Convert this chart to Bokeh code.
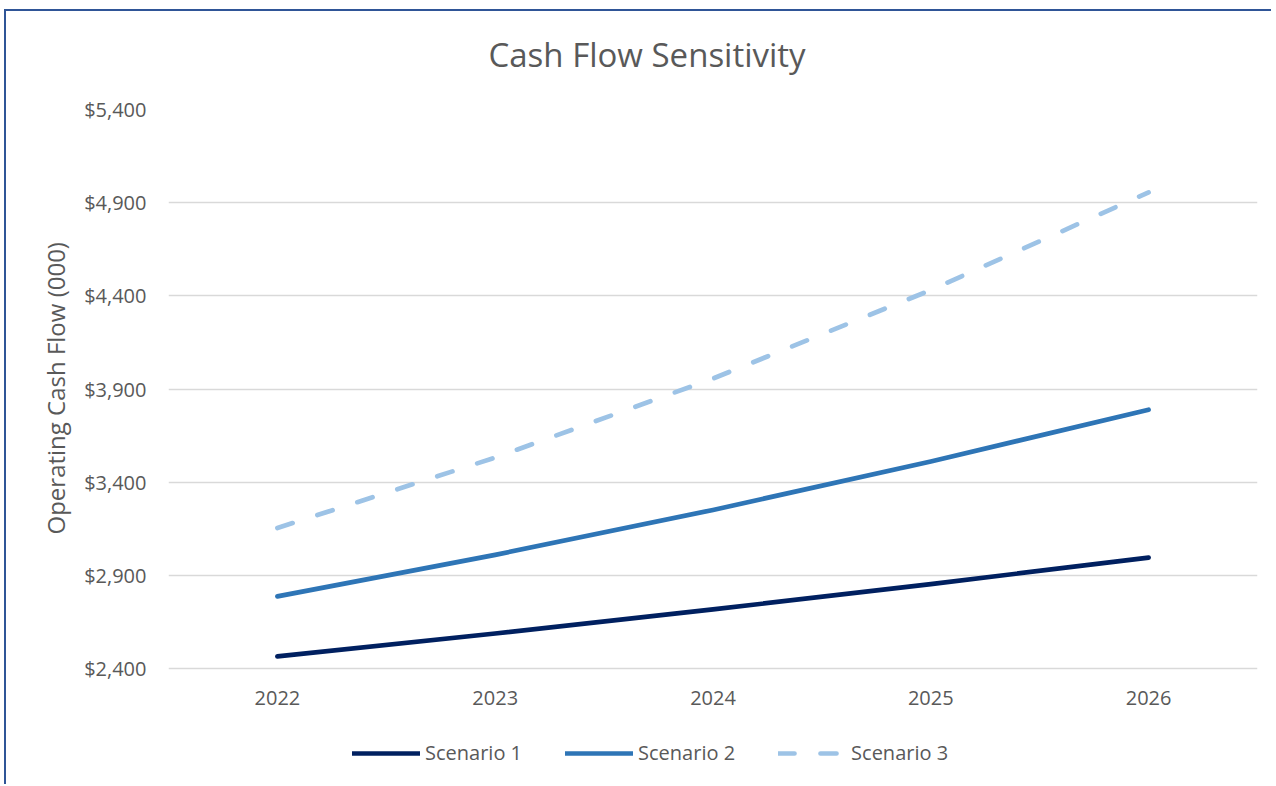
from bokeh.plotting import figure
from bokeh.models import (FactorRange, Range1d, FixedTicker, NumeralTickFormatter,
                          Legend, LegendItem, ColumnDataSource, Title)
from bokeh.embed import file_html
from bokeh.resources import INLINE

# ---- data ----
years = ["2022", "2023", "2024", "2025", "2026"]
scenario_1 = [2465, 2588, 2717, 2853, 2995]
scenario_2 = [2787, 3010, 3251, 3511, 3789]
scenario_3 = [3154, 3532, 3956, 4431, 4955]
series_names = ["Scenario 1", "Scenario 2", "Scenario 3"]
y_ticks = [2400, 2900, 3400, 3900, 4400, 4900, 5400]
y_axis_title = "Operating Cash Flow (000)"
chart_title = "Cash Flow Sensitivity"

FONT = "Open Sans"
TEXT = "#595959"

# layout: value axis spans 559 px; extra room below the axis holds the legend
VALUE_PX = 559
EXTRA_PX = 104
y_lo, y_hi = y_ticks[0], y_ticks[-1]
y_start = y_lo - EXTRA_PX * (y_hi - y_lo) / VALUE_PX

p = figure(
    x_range=FactorRange(factors=years),
    y_range=Range1d(y_start, y_hi),
    frame_width=1089, frame_height=VALUE_PX + EXTRA_PX,
    min_border_left=162, min_border_right=14,
    min_border_top=98, min_border_bottom=12,
    output_backend="svg", toolbar_location=None,
    title=chart_title,
)
p.styles = {"border-top": "2px solid #2F5597", "border-left": "2px solid #2F5597",
            "margin-left": "4px", "margin-top": "9px"}
p.outline_line_color = None
p.background_fill_color = "white"
p.border_fill_color = "white"

# title
p.title.align = "left"
p.title.offset = 320
p.title.standoff = 37
p.title.text_font = FONT
p.title.text_font_size = "33px"
p.title.text_font_style = "normal"
p.title.text_color = TEXT
# blank spacer between title and plot area
p.add_layout(Title(text=" ", text_font_size="1px", standoff=11), "above")

# x axis sits on the lowest value gridline
p.xaxis.fixed_location = y_lo
p.xaxis.axis_line_color = None
p.xaxis.major_tick_line_color = None
p.xaxis.minor_tick_line_color = None
p.xaxis.major_label_standoff = 16
p.xaxis.major_label_text_font = FONT
p.xaxis.major_label_text_font_size = "20px"
p.xaxis.major_label_text_color = TEXT

p.yaxis.ticker = FixedTicker(ticks=y_ticks)
p.yaxis.formatter = NumeralTickFormatter(format="$0,0")
p.yaxis.axis_line_color = None
p.yaxis.major_tick_line_color = None
p.yaxis.minor_tick_line_color = None
p.yaxis.major_label_standoff = 16
p.yaxis.major_label_text_font = FONT
p.yaxis.major_label_text_font_size = "20px"
p.yaxis.major_label_text_color = TEXT

# value-axis title, centred on the value span
p.add_layout(Title(text=y_axis_title, align="left", offset=238, standoff=20,
                   text_font=FONT, text_font_size="24px", text_font_style="normal",
                   text_color=TEXT), "left")

p.xgrid.grid_line_color = None
p.ygrid.grid_line_color = "#D9D9D9"
p.ygrid.grid_line_width = 1.5

src = ColumnDataSource(dict(year=years, s1=scenario_1, s2=scenario_2, s3=scenario_3))
r1 = p.line("year", "s1", source=src, line_color="#002060", line_width=4.7, line_cap="round", line_join="round")
r2 = p.line("year", "s2", source=src, line_color="#2E75B6", line_width=4.7, line_cap="round", line_join="round")
r3 = p.line("year", "s3", source=src, line_color="#9DC3E6", line_width=4.7, line_cap="round",
            line_join="round", line_dash="16 26")

legend = Legend(
    items=[LegendItem(label=series_names[0], renderers=[r1]),
           LegendItem(label=series_names[1], renderers=[r2]),
           LegendItem(label=series_names[2], renderers=[r3])],
    orientation="horizontal", location=(184, 6),
    glyph_width=68, glyph_height=20, label_height=20,
    label_standoff=5, spacing=43,
    padding=0, margin=0,
    border_line_color=None, background_fill_alpha=0,
    label_text_font=FONT, label_text_font_size="20px", label_text_color=TEXT,
)
p.add_layout(legend, "center")

open("out.html", "w").write(file_html(p, INLINE))
